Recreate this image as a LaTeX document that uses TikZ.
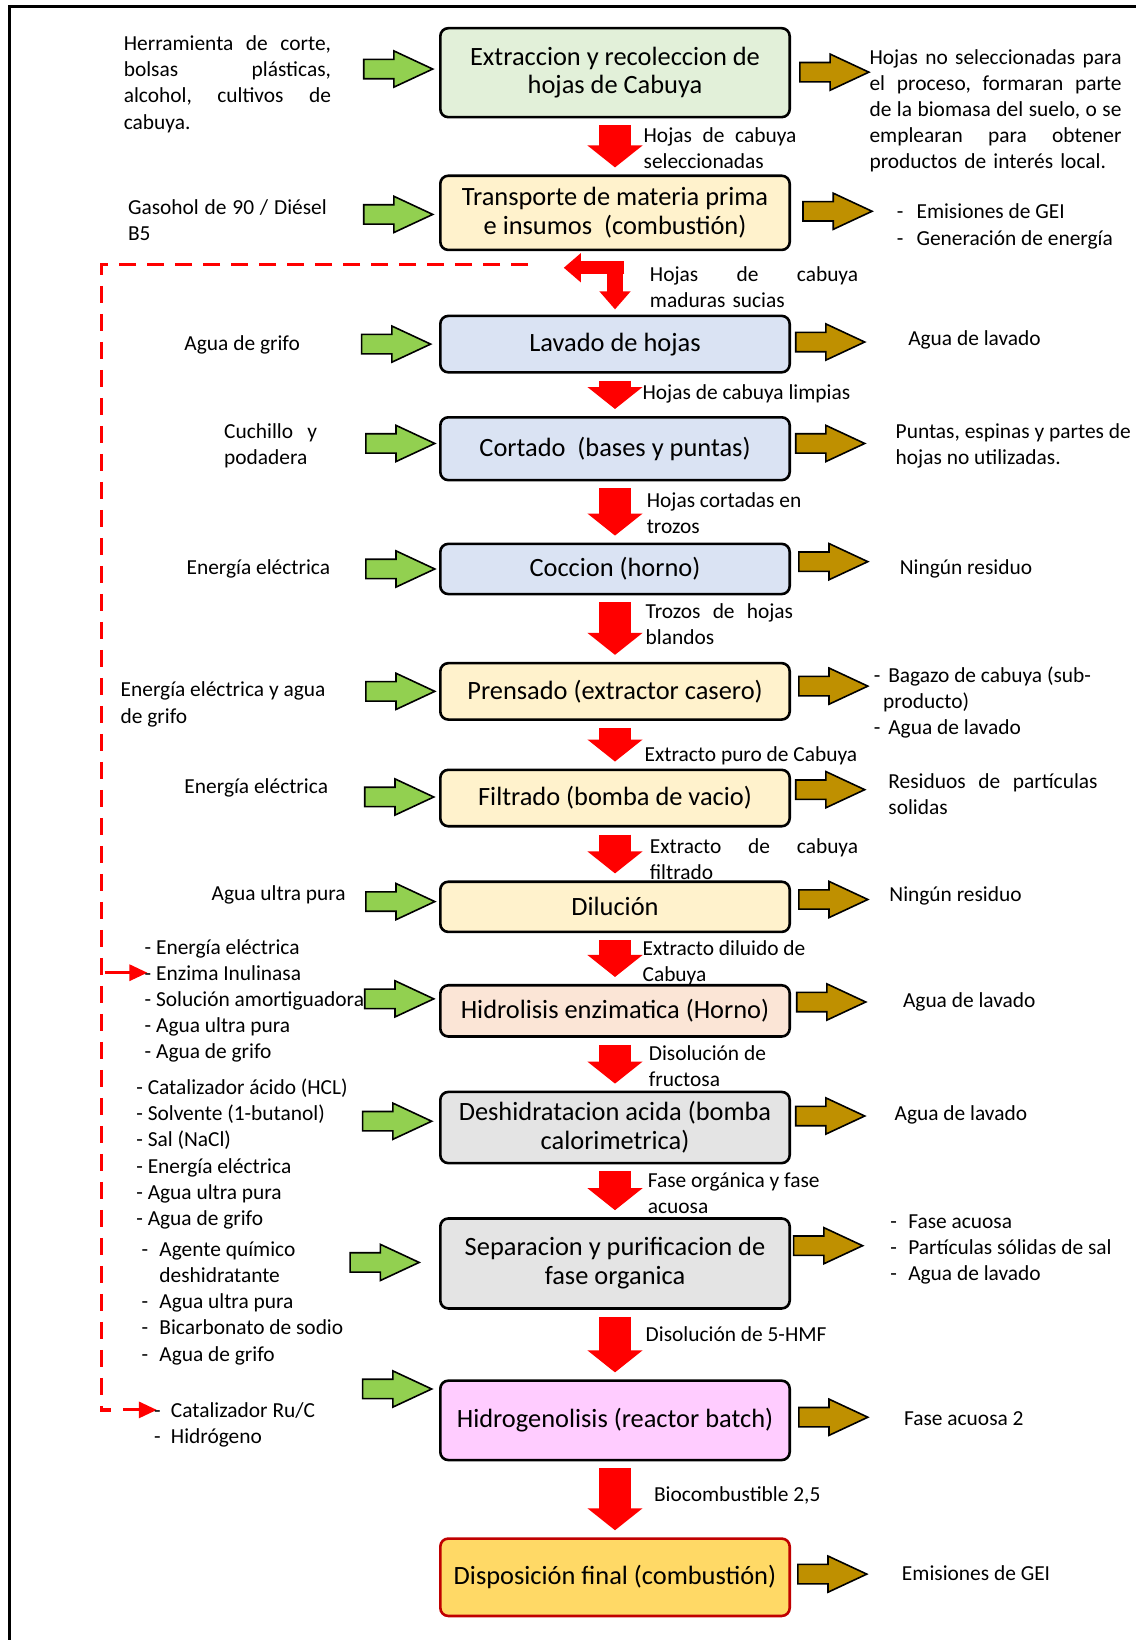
\documentclass[tikz,border=0pt]{standalone}
\usepackage{fontspec}
\setmainfont{Carlito}
\usetikzlibrary{shapes.arrows,arrows.meta}

\definecolor{cgreen}{HTML}{E2F0D9}
\definecolor{cyellow}{HTML}{FFF2CC}
\definecolor{cblue}{HTML}{DAE3F3}
\definecolor{cpeach}{HTML}{FBE5D6}
\definecolor{cgray}{HTML}{E4E4E4}
\definecolor{cpink}{HTML}{FFCCFF}
\definecolor{cgold}{HTML}{FFD966}
\definecolor{cdarkred}{HTML}{C00000}
\definecolor{arrgreen}{HTML}{92D050}
\definecolor{arrbrown}{HTML}{BF9000}

\newcommand{\itemdash}[1]{\makebox[#1][l]{-}}

\tikzset{
  proc/.style={draw, line width=1.3pt, rounded corners=4pt, minimum width=174.7pt,
    align=center, inner sep=2pt, font=\fontsize{13.2}{14.4}\selectfont},
  txt/.style={inner sep=0pt, anchor=west, align=left, yshift=-1pt, font=\fontsize{10.7}{13.1}\selectfont},
  inarrow/.style={single arrow, draw, line width=0.8pt, fill=arrgreen, inner xsep=0pt,
    inner ysep=4.45pt, minimum height=34.5pt, single arrow head extend=4.2pt,
    single arrow tip angle=50, anchor=tail},
  outarrow/.style={inarrow, fill=arrbrown},
  flow/.style={draw=red, line width=16pt, -{Triangle[width=27pt,length=11pt]},
    shorten <=3.5pt, shorten >=3.5pt},
  feed/.style={draw=red, line width=1.5pt, -{Triangle[width=8pt,length=9pt]}},
}

\begin{document}
\begin{tikzpicture}[x=0.523pt, y=-0.523pt]
  \useasboundingbox (0,0) rectangle (1086,1568);
  \draw[line width=1.6pt] (1086,6) -- (9,6) -- (9,1568);

  % process chain
  \node[proc, fill=cgreen, minimum height=44.5pt] (ext) at (588,69.5) {Extraccion y recoleccion de\\hojas de Cabuya};
  \node[proc, fill=cyellow, minimum height=37.1pt] (tra) at (588,203.5) {Transporte de materia prima\\e insumos \ (combustión)};
  \node[proc, fill=cblue, minimum height=28.2pt] (lav) at (588,329) {Lavado de hojas};
  \node[proc, fill=cblue, minimum height=31.4pt] (cor) at (588,429) {Cortado \ (bases y puntas)};
  \node[proc, fill=cblue, minimum height=25.1pt] (coc) at (588,544) {Coccion (horno)};
  \node[proc, fill=cyellow, minimum height=28.2pt] (pre) at (588,661) {Prensado (extractor casero)};
  \node[proc, fill=cyellow, minimum height=28.2pt] (fil) at (588,763) {Filtrado (bomba de vacio)};
  \node[proc, fill=cyellow, minimum height=25.1pt] (dil) at (588,867) {Dilución};
  \node[proc, fill=cpeach, minimum height=25.6pt] (hid) at (588,966.5) {Hidrolisis enzimatica (Horno)};
  \node[proc, fill=cgray, minimum height=35.6pt] (des) at (588,1078) {Deshidratacion acida (bomba\\calorimetrica)};
  \node[proc, fill=cgray, minimum height=45pt] (sep) at (588,1208) {Separacion y purificacion de\\fase organica};
  \node[proc, fill=cpink, minimum height=39.7pt] (hgn) at (588,1358) {Hidrogenolisis (reactor batch)};
  \node[proc, fill=cgold, draw=cdarkred, minimum height=38.7pt] (dis) at (588,1508) {Disposición final (combustión)};

  \foreach \a/\b in {ext/tra, lav/cor, cor/coc, coc/pre, pre/fil, fil/dil, dil/hid, hid/des, des/sep, sep/hgn, hgn/dis}
    \draw[flow] (\a.south) -- (\b.north);

  % bent arrow and return line
  \coordinate (bend) at (588,250);
  \coordinate (bendR) at (597,256);
  \coordinate (bendL) at (539,256);
  \draw[draw=red, line width=7.8pt, -{Triangle[width=15pt,length=9pt]}, shorten >=2.6pt] (bend) -- (lav.north);
  \draw[draw=red, line width=6.3pt, -{Triangle[width=14pt,length=8.5pt]}] (bendR) -- (bendL);

  \coordinate (ret1) at (505,253);
  \coordinate (ret2) at (97,253);
  \coordinate (ret3) at (97,1348);
  \coordinate (ret4) at (106,1348);
  \draw[red, line width=1.6pt, dash pattern=on 8.5pt off 5.5pt] (ret1) -- (ret2) -- (ret3) -- (ret4);
  \coordinate (enz0) at (100,930);
  \coordinate (enz1) at (141,930);
  \coordinate (cat0) at (118,1348);
  \coordinate (cat1) at (150,1348);
  \draw[feed] (enz0) -- (enz1);
  \draw[feed] (cat0) -- (cat1);

  % inputs and outputs
  \foreach \px/\py [count=\i] in {347/66, 347/205, 345/329, 349/424, 349/544, 349/661, 348/762, 349/862, 348/955, 346/1072, 334/1207, 346/1328}
    \node[inarrow] (ga\i) at (\px,\py) {};
  \foreach \px/\py [count=\i] in {764/69, 767/202, 760/327, 760/424, 763/537, 763/656, 760/755, 763/860, 761/958, 760/1067, 758/1191, 763/1355, 762/1505}
    \node[outarrow] (ba\i) at (\px,\py) {};

  \node[txt, text width=103.6pt] (in1) at (118,78.5) {Herramienta\hfill de\hfill corte,\\bolsas\hfill plásticas,\\alcohol,\hfill cultivos\hfill de\\cabuya.};
  \node[txt, text width=99.4pt] (in2) at (122,208.5) {Gasohol\hfill de\hfill 90\hfill /\hfill Diésel\\B5};
  \node[txt] (in3) at (176,328) {Agua de grifo};
  \node[txt, text width=46.5pt] (in4) at (214,424) {Cuchillo\hfill y\\podadera};
  \node[txt] (in5) at (178,542) {Energía eléctrica};
  \node[txt] (in6) at (115,671.5) {Energía eléctrica y agua\\de grifo};
  \node[txt] (in7) at (176,751) {Energía eléctrica};
  \node[txt] (in8) at (202,854) {Agua ultra pura};
  \node[txt] (in9) at (138,955) {- Energía eléctrica\\- Enzima Inulinasa\\- Solución amortiguadora\\- Agua ultra pura\\- Agua de grifo};
  \node[txt] (in10) at (130,1101.5) {- Catalizador ácido (HCL)\\- Solvente (1-butanol)\\- Sal (NaCl)\\- Energía eléctrica\\- Agua ultra pura\\- Agua de grifo};
  \node[txt] (in11) at (135,1244) {\itemdash{8.9pt}Agente químico\\\hspace*{8.9pt}deshidratante\\\itemdash{8.9pt}Agua ultra pura\\\itemdash{8.9pt}Bicarbonato de sodio\\\itemdash{8.9pt}Agua de grifo};
  \node[txt] (in12) at (147,1360.5) {\itemdash{8.4pt}Catalizador Ru/C\\\itemdash{8.4pt}Hidrógeno};

  \node[txt, text width=126pt] (out1) at (831,104) {Hojas\hfill no\hfill seleccionadas\hfill para\\el\hfill proceso,\hfill formaran\hfill parte\\de\hfill la\hfill biomasa\hfill del\hfill suelo,\hfill o\hfill se\\emplearan\hfill para\hfill obtener\\productos de interés local.};
  \node[txt] (out2) at (857,214.5) {\itemdash{9.9pt}Emisiones de GEI\\\itemdash{9.9pt}Generación de energía};
  \node[txt] (out3) at (868,323) {Agua de lavado};
  \node[txt] (out4) at (856,424.5) {Puntas, espinas y partes de\\hojas no utilizadas.};
  \node[txt] (out5) at (860,542) {Ningún residuo};
  \node[txt] (out6) at (835,669.5) {\itemdash{7.3pt}Bagazo de cabuya (sub-\\\hspace*{4.7pt}producto)\\\itemdash{7.3pt}Agua de lavado};
  \node[txt, text width=104.6pt] (out7) at (849,757.5) {Residuos\hfill de\hfill partículas\\solidas};
  \node[txt] (out8) at (850,855) {Ningún residuo};
  \node[txt] (out9) at (863,956) {Agua de lavado};
  \node[txt] (out10) at (855,1064) {Agua de lavado};
  \node[txt] (out11) at (851,1192.5) {\itemdash{8.9pt}Fase acuosa\\\itemdash{8.9pt}Partículas sólidas de sal\\\itemdash{8.9pt}Agua de lavado};
  \node[txt] (out12) at (864,1354) {Fase acuosa 2};
  \node[txt] (out13) at (862,1502) {Emisiones de GEI};

  % stream labels
  \node[txt, text width=76.4pt] (fl1) at (615,139.5) {Hojas\hfill de\hfill cabuya\\seleccionadas};
  \node[txt, text width=104.1pt] (fl2) at (621,272.5) {Hojas\hfill de\hfill cabuya\\maduras sucias};
  \node[txt] (fl3) at (614,375) {Hojas de cabuya limpias};
  \node[txt] (fl4) at (618,489) {Hojas cortadas en\\trozos};
  \node[txt, text width=73.7pt] (fl5) at (617,595) {Trozos\hfill de\hfill hojas\\blandos};
  \node[txt] (fl6) at (616,721) {Extracto puro de Cabuya};
  \node[txt, text width=104.1pt] (fl7) at (621,819.5) {Extracto\hfill de\hfill cabuya\\filtrado};
  \node[txt] (fl8) at (614,918.5) {Extracto diluido de\\Cabuya};
  \node[txt] (fl9) at (620,1017.5) {Disolución de\\fructosa};
  \node[txt] (fl10) at (619,1139) {Fase orgánica y fase\\acuosa};
  \node[txt] (fl11) at (617,1274) {Disolución de 5-HMF};
  \node[txt] (fl12) at (625,1428) {Biocombustible 2,5};
\end{tikzpicture}
\end{document}
